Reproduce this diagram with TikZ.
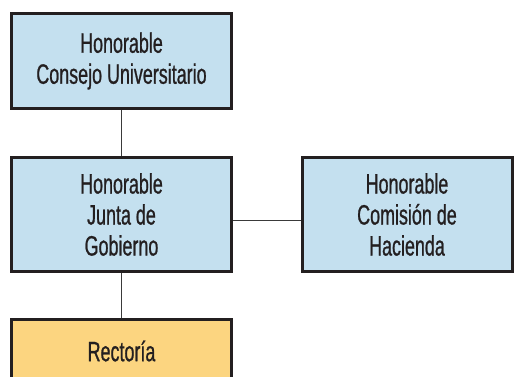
\documentclass[tikz,border=0pt]{standalone}
\usepackage{fontspec}
\setmainfont{Liberation Sans}[FakeStretch=0.64, FakeBold=0.8]
\usepackage{tikz}
\usetikzlibrary{calc}
\definecolor{boxblue}{HTML}{C4E0EF}
\definecolor{boxorange}{HTML}{FCD580}
\definecolor{boxline}{HTML}{231F20}
\definecolor{linkgray}{HTML}{3A3A3A}
\tikzset{orgbox/.style={rectangle, draw=boxline, line width=3pt, align=center, inner sep=0pt, font=\fontsize{28}{31}\selectfont, text=boxline}}

\begin{document}
\begin{tikzpicture}[x=1pt,y=-1pt]
    \useasboundingbox (0,0) rectangle (514,377);
    \clip (0,0) rectangle (514,377);
    \foreach \x/\y/\w/\h/\col/\lab/\tx in {
      121.5/61/220/95/boxblue/consejo/{Honorable\\Consejo Universitario},
      121.5/214.5/220/114/boxblue/junta/{Honorable\\Junta de\\Gobierno},
      407/214.5/210/114/boxblue/hacienda/{Honorable\\Comisión de\\Hacienda},
      121.5/351/220/63/boxorange/rectoria/{Rectoría}%
    } {
      \node[orgbox, fill=\col, minimum width=\w pt, minimum height=\h pt] (\lab) at (\x, \y) {\tx};
    }
    \draw[linkgray, line width=1.3pt] (consejo) -- (junta);
    \draw[linkgray, line width=1.3pt] (junta) -- (rectoria);
    \draw[linkgray, line width=1.3pt] ($(junta.east)+(0,6)$) -- ($(hacienda.west)+(0,6)$);
  \end{tikzpicture}
\end{document}
